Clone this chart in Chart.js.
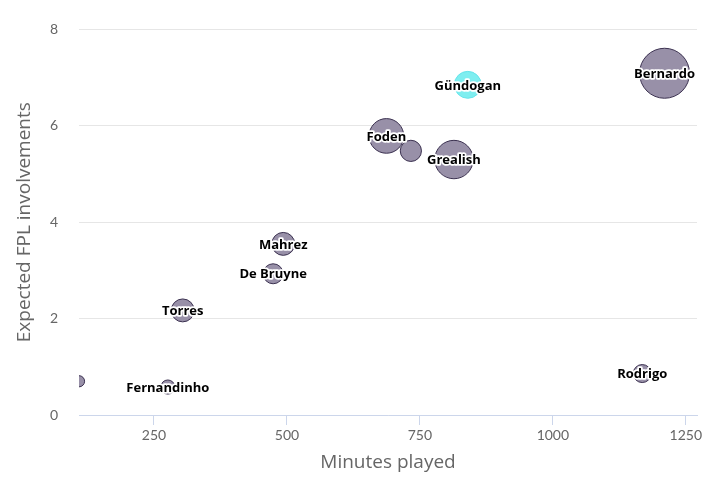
<!DOCTYPE html>
<html>
<head>
<meta charset="utf-8">
<script src="https://cdn.jsdelivr.net/npm/chart.js@4.4.1/dist/chart.umd.min.js"></script>
<style>
  html, body { margin: 0; padding: 0; background: #fff; }
  #wrap { width: 718px; height: 483px; }
</style>
</head>
<body>
<div id="wrap"><canvas id="bubbleChart"></canvas></div>
<script>
// data
const players = ["", "Fernandinho", "Torres", "De Bruyne", "Mahrez", "Foden", "", "Grealish", "Gündogan", "Bernardo", "Rodrigo"];
const minutesPlayed = [109, 276, 304, 474, 493, 687, 733, 814, 840, 1210, 1168];
const expectedInvolvements = [0.70, 0.58, 2.17, 2.93, 3.55, 5.79, 5.48, 5.30, 6.85, 7.09, 0.86];
const bubbleValues = [5, 8, 21, 16, 21, 48, 18, 59, 29, 100, 13];
const highlighted = ["Gündogan"];
const xTicks = [250, 500, 750, 1000, 1250];
const yTicks = [0, 2, 4, 6, 8];

const points = players.map((name, i) => ({
    x: minutesPlayed[i],
    y: expectedInvolvements[i],
    r: 2.5 * Math.sqrt(bubbleValues[i]),
    name: name
}));

// 🔥 labels with white outline, centred on each bubble
const bubbleLabels = {
    id: "bubbleLabels",
    afterDatasetsDraw(chart) {
        const ctx = chart.ctx;
        const meta = chart.getDatasetMeta(0);
        ctx.save();
        ctx.font = "bold 13px 'Open Sans'";
        ctx.textAlign = "center";
        ctx.textBaseline = "middle";
        ctx.lineJoin = "round";
        meta.data.forEach((el, i) => {
            const name = points[i].name;
            if (!name) return;
            ctx.lineWidth = 3.5;
            ctx.strokeStyle = "#fff";
            ctx.strokeText(name, el.x, el.y + 1);
            ctx.fillStyle = "#000";
            ctx.fillText(name, el.x, el.y + 1);
        });
        ctx.restore();
    }
};

new Chart(document.getElementById("bubbleChart"), {
    type: "bubble",
    data: {
        datasets: [{
            data: points,
            clip: 0,
            backgroundColor: points.map(p => highlighted.includes(p.name) ? "#7eeef0" : "#9890a8"),
            borderColor: points.map(p => highlighted.includes(p.name) ? "#66e4ea" : "#3b3150"),
            borderWidth: 1,
            hoverRadius: 0
        }]
    },
    options: {
        responsive: true,
        maintainAspectRatio: false,
        animation: false,
        layout: { autoPadding: false, padding: { left: 0, right: 21, top: 28, bottom: 0 } },
        plugins: { legend: { display: false }, tooltip: { enabled: false } },
        scales: {
            x: {
                type: "linear",
                min: 109,
                max: 1271,
                afterBuildTicks: scale => { scale.ticks = xTicks.map(v => ({ value: v })); },
                afterFit: scale => { scale.height = 68; },
                grid: { drawOnChartArea: false, drawTicks: true, tickLength: 10, color: "#ccd6eb" },
                border: { color: "#ccd6eb", width: 1 },
                ticks: {
                    color: "#666",
                    font: { family: "Lato", size: 14 },
                    padding: 2,
                    maxRotation: 0,
                    callback: v => String(v)
                },
                title: {
                    display: true,
                    text: "Minutes played",
                    color: "#666",
                    font: { family: "Open Sans", size: 19 },
                    padding: { top: 0, bottom: 9 }
                }
            },
            y: {
                type: "linear",
                min: 0,
                max: 8,
                afterBuildTicks: scale => { scale.ticks = yTicks.map(v => ({ value: v })); },
                afterFit: scale => { scale.width = 79; },
                grid: { drawTicks: false, color: "#e6e6e6" },
                border: { display: false },
                ticks: { color: "#666", font: { family: "Lato", size: 14 }, padding: 21 },
                title: {
                    display: true,
                    text: "Expected FPL involvements",
                    color: "#666",
                    font: { family: "Open Sans", size: 19 },
                    padding: { top: 13.5, bottom: 0 }
                }
            }
        }
    },
    plugins: [bubbleLabels]
});
</script>
</body>
</html>
